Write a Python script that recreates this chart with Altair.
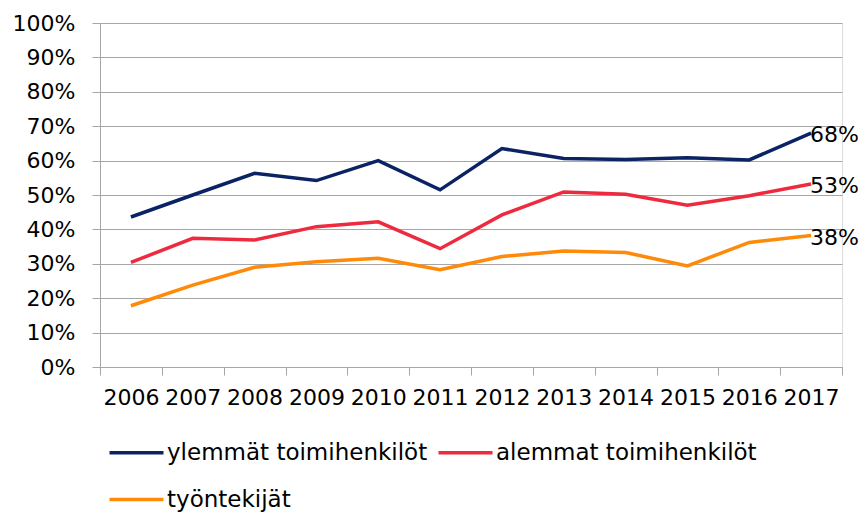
import altair as alt
import pandas as pd

years = ["2006", "2007", "2008", "2009", "2010", "2011", "2012", "2013", "2014", "2015", "2016", "2017"]
series_names = ["ylemmät toimihenkilöt", "alemmat toimihenkilöt", "työntekijät"]
ylemmat = [0.436, 0.500, 0.563, 0.542, 0.600, 0.515, 0.635, 0.606, 0.603, 0.608, 0.602, 0.680]
alemmat = [0.304, 0.374, 0.369, 0.408, 0.422, 0.344, 0.442, 0.509, 0.502, 0.470, 0.498, 0.532]
tyontekijat = [0.178, 0.238, 0.290, 0.306, 0.316, 0.283, 0.321, 0.337, 0.333, 0.294, 0.362, 0.382]
y_ticks = [0.0, 0.1, 0.2, 0.3, 0.4, 0.5, 0.6, 0.7, 0.8, 0.9, 1.0]
colors = ["#0b2265", "#ee2a3e", "#ff8a0a"]

rows = []
for name, vals in zip(series_names, [ylemmat, alemmat, tyontekijat]):
    for y, v in zip(years, vals):
        rows.append({"vuosi": y, "sarja": name, "osuus": v})
df = pd.DataFrame(rows)
last = df[df["vuosi"] == years[-1]]

FONT = "DejaVu Sans"

x_enc = alt.X("vuosi:N", title=None, sort=years,
              scale=alt.Scale(type="band", paddingInner=0, paddingOuter=0),
              axis=alt.Axis(labelAngle=0, tickBand="extent", labelFontSize=22, labelFont=FONT,
                            labelColor="#000000", labelPadding=12, tickSize=8,
                            labelOverlap=False,
                            domainColor="#a6a6a6", tickColor="#a6a6a6", grid=False))
y_enc = alt.Y("osuus:Q", title=None,
              scale=alt.Scale(domain=[0, 1], nice=False),
              axis=alt.Axis(values=y_ticks, format=".0%", labelFontSize=22,
                            labelFont=FONT, labelColor="#000000", labelPadding=17, tickSize=8,
                            labelOverlap=False,
                            domainColor="#a6a6a6", tickColor="#a6a6a6", gridColor="#a6a6a6",
                            gridWidth=1))
color_enc = alt.Color("sarja:N", sort=series_names,
                      scale=alt.Scale(domain=series_names, range=colors),
                      legend=alt.Legend(title=None, orient="none", legendX=25, legendY=418,
                                        direction="horizontal", columns=2,
                                        symbolType="M-3,0H3", symbolSize=324,
                                        symbolStrokeWidth=3.5, labelFontSize=23, labelFont=FONT,
                                        labelColor="#000000", labelOffset=19,
                                        columnPadding=3, rowPadding=23, labelLimit=400))

lines = alt.Chart(df).mark_line(strokeWidth=3.5).encode(x=x_enc, y=y_enc, color=color_enc)
labels = alt.Chart(last).mark_text(align="left", baseline="middle", dx=-1, dy=2,
                                    fontSize=22, font=FONT, color="#000000").encode(
    x=x_enc, y=y_enc,
    text=alt.Text("osuus:Q", format=".0%"))

chart = alt.layer(lines, labels).properties(
    width=742, height=344,
    autosize=alt.AutoSizeParams(type="none"),
    padding={"left": 92, "top": 15, "right": 18, "bottom": 145},
).configure_view(stroke=None).configure(background="#ffffff")

chart.save("out.html", embed_options={"renderer": "svg", "actions": False})
